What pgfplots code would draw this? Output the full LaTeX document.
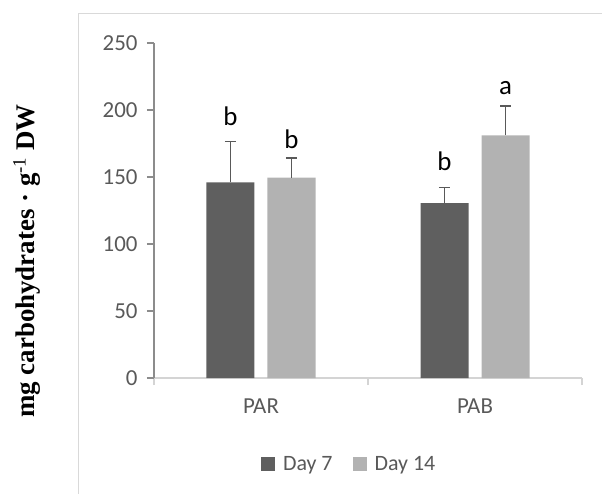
\documentclass[border=0pt]{standalone}
\usepackage{pgfplots}
\pgfplotsset{compat=1.18}
\usepackage{fontspec}
\setmainfont{Carlito}
\newfontfamily\timesfont{Liberation Serif}
\definecolor{daysev}{HTML}{5F5F5F}
\definecolor{dayfourteen}{HTML}{B2B2B2}
\definecolor{txtgray}{HTML}{595959}
\definecolor{axgray}{HTML}{8C8C8C}
\definecolor{axlight}{HTML}{D4D4D4}
\definecolor{framegray}{HTML}{D9D9D9}
\begin{document}
\begin{tikzpicture}
\useasboundingbox (-154bp,-116bp) rectangle (448bp,378bp);
\draw[framegray, line width=1bp] (-75bp,-120bp) -- (-75bp,364bp) -- (452bp,364bp);
\begin{axis}[
  scale only axis,
  width=428bp, height=335bp,
  xmin=-0.5, xmax=1.5,
  ymin=0, ymax=250,
  ybar=13bp, bar width=48bp,
  axis x line*=bottom, axis y line*=left,
  x axis line style={draw=axlight, line width=1.2bp, -},
  y axis line style={draw=axgray, line width=1.2bp, -},
  xtick={0,1}, xticklabels={PAR,PAB},
  minor xtick={-0.5,0.5,1.5},
  ytick={0,50,100,150,200,250},
  tick align=outside,
  x tick style={draw=none},
  minor x tick style={draw=axlight, line width=1.2bp},
  minor tick length=7bp,
  major tick length=7bp,
  y tick style={draw=axgray, line width=1.2bp},
  ticklabel style={font=\fontsize{23}{27}\selectfont, text=txtgray},
  /pgf/number format/assume math mode=true,
  yticklabel style={xshift=-6bp},
  xticklabel style={yshift=-10bp},
  error bars/y dir=plus, error bars/y explicit,
  error bars/error bar style={draw=txtgray, line width=1.5bp},
  error bars/error mark options={rotate=90, mark size=5.5bp, draw=txtgray, line width=1.5bp},
  legend columns=2,
  legend style={draw=none, at={(axis description cs:0.456,-0.257)}, anchor=center,
    font=\fontsize{22}{26}\selectfont, text=txtgray,
    /tikz/every odd column/.append style={column sep=6bp},
    /tikz/every even column/.append style={column sep=18bp}},
  legend image code/.code={\fill[#1, draw=none] (0bp,-7bp) rectangle (14bp,7bp);},
  clip=false,
]
\addplot[fill=daysev, draw=none] coordinates {(0,146) +- (0,30.5) (1,130.5) +- (0,11.5)};
\addplot[fill=dayfourteen, draw=none] coordinates {(0,149.5) +- (0,14.5) (1,181) +- (0,22)};
\legend{Day 7, Day 14}
\node[font=\fontsize{27}{30}\selectfont, inner sep=0pt, xshift=-30.5bp] at (axis cs:0,195) {b};
\node[font=\fontsize{27}{30}\selectfont, inner sep=0pt, xshift=30.5bp] at (axis cs:0,178) {b};
\node[font=\fontsize{27}{30}\selectfont, inner sep=0pt, xshift=-30.5bp] at (axis cs:1,161.4) {b};
\node[font=\fontsize{27}{30}\selectfont, inner sep=0pt, xshift=30.5bp] at (axis cs:1,216.6) {a};
\end{axis}
\node[rotate=90, font=\timesfont\bfseries\fontsize{27}{30}\selectfont, inner sep=0pt] at (-127bp,117bp) {mg carbohydrates · g\textsuperscript{\mdseries -1} DW};
\end{tikzpicture}
\end{document}
